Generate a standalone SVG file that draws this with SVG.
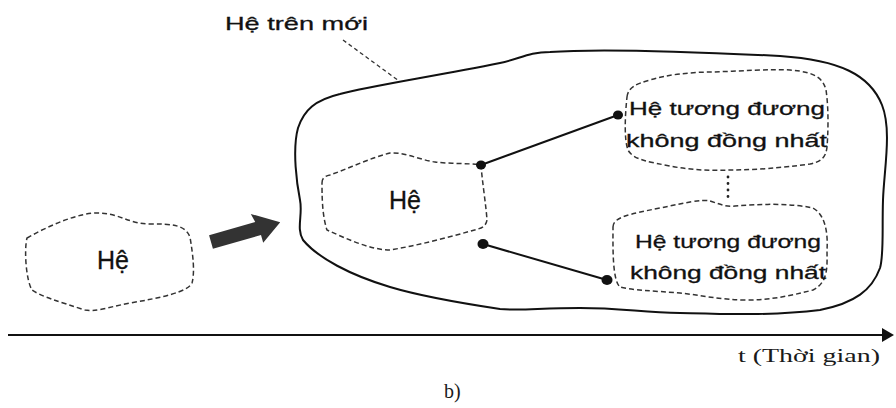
<svg xmlns="http://www.w3.org/2000/svg" width="896" height="408" viewBox="0 0 896 408">
<defs>
<style>
.blob{fill:none;stroke:#333;stroke-width:1.5;stroke-dasharray:5,3}
.outer{fill:none;stroke:#111;stroke-width:2}
.conn{fill:none;stroke:#111;stroke-width:2}
.dot{fill:#111}
.lbl{font-family:"Liberation Sans","DejaVu Sans",sans-serif;fill:#111;stroke:#111;stroke-width:0.3}
.serif{font-family:"Liberation Serif","DejaVu Serif",serif;fill:#1a1a1a}
</style>
</defs>
<rect width="896" height="408" fill="#fff"/>

<g id="he-tren-moi">
<path class="outer" d="M 303,240 C 296,228 303,215 300,200 C 297,185 292,150 298,128 C 304,110 315,100 340,94 C 370,86 430,77 500,63 C 520,59 528,52 550,52 C 600,48 700,52 780,56 C 840,60 870,75 882,105 C 892,130 884,170 883,200 C 882,230 884,255 880,268 C 872,290 855,303 820,310 C 770,316 720,314 680,313 C 640,312 620,308 580,308 C 540,308 520,311 500,309 C 460,303 420,296 390,287 C 350,275 318,258 303,240 Z"/>
<text class="lbl" x="225" y="30" font-size="19" textLength="143" lengthAdjust="spacingAndGlyphs">Hệ trên mới</text>
<line x1="343" y1="40" x2="399" y2="81" stroke="#333" stroke-width="1.3" stroke-dasharray="4,3"/>
</g>

<g id="he-left">
<path class="blob" d="M 27,238 C 50,225 80,212 100,213 C 120,214 130,224 150,224 C 170,224 185,224 190,237 C 193,255 195,272 192,283 C 188,292 160,298 130,303 C 105,308 95,312 85,310 C 60,302 40,296 32,290 C 26,280 24,250 27,238 Z"/>
<text class="lbl" x="113" y="269" font-size="25" text-anchor="middle">Hệ</text>
</g>

<g id="big-arrow">
<polygon transform="translate(211,242) rotate(-16)" points="0,-7 48,-7 46,-16 72,0 50,15 50,7 0,7" fill="#333"/>
</g>

<g id="he-middle">
<path class="blob" d="M 322,183 C 322,178 325,176 330,175 C 350,168 370,158 390,153 C 405,152 420,160 435,162 C 450,164 470,163 481,165 C 482,180 486,205 487,220 C 486,226 482,228 478,229 C 450,237 420,245 390,250 C 370,250 345,238 327,230 C 322,215 322,195 322,183 Z"/>
<text class="lbl" x="405" y="209" font-size="25" text-anchor="middle">Hệ</text>
</g>

<g id="he-tuong-duong-1">
<path class="blob" d="M 627,97 C 628,88 635,84 650,80 C 665,75 690,72 713,72 C 740,71 770,69 790,70 C 815,72 823,78 826,90 C 829,110 828,135 827,147 C 826,158 820,162 810,164 C 780,168 755,170 730,170 C 710,171 690,170 670,166 C 650,162 633,160 628,150 C 624,140 625,115 627,97 Z"/>
<text class="lbl" x="629" y="115" font-size="19" textLength="196" lengthAdjust="spacingAndGlyphs">Hệ tương đương</text>
<text class="lbl" x="626" y="147" font-size="19" textLength="201" lengthAdjust="spacingAndGlyphs">không đồng nhất</text>
</g>

<g id="he-tuong-duong-2">
<path class="blob" d="M 613,227 C 613,217 630,214 660,208 C 685,203 700,199 710,201 C 720,204 725,207 735,206 C 760,204 790,203 813,208 C 826,215 828,235 827,250 C 827,265 829,282 813,290 C 790,296 770,300 747,300 C 720,300 700,295 680,293 C 655,291 630,290 620,287 C 612,280 613,245 613,227 Z"/>
<text class="lbl" x="635" y="248" font-size="19" textLength="186" lengthAdjust="spacingAndGlyphs">Hệ tương đương</text>
<text class="lbl" x="630" y="279" font-size="19" textLength="196" lengthAdjust="spacingAndGlyphs">không đồng nhất</text>
</g>

<g id="connectors">
<line class="conn" x1="481" y1="165" x2="618" y2="115"/>
<line class="conn" x1="483" y1="244" x2="607" y2="280"/>
<ellipse class="dot" cx="481" cy="165" rx="5" ry="4.5"/>
<ellipse class="dot" cx="618" cy="115" rx="5" ry="4.5"/>
<ellipse class="dot" cx="483" cy="244" rx="5.5" ry="5"/>
<ellipse class="dot" cx="607" cy="280" rx="5.5" ry="5"/>
<line x1="728" y1="177" x2="728" y2="200" stroke="#222" stroke-width="2.8" stroke-linecap="round" stroke-dasharray="0,6.5"/>
</g>

<g id="time-axis">
<line x1="8" y1="335" x2="884" y2="335" stroke="#111" stroke-width="2"/>
<polygon points="882,328 894,335 882,342" fill="#111"/>
<text class="serif" x="738" y="362" font-size="19" textLength="142" lengthAdjust="spacingAndGlyphs">t (Thời gian)</text>
<text class="serif" x="444" y="398" font-size="20">b)</text>
</g>
</svg>
